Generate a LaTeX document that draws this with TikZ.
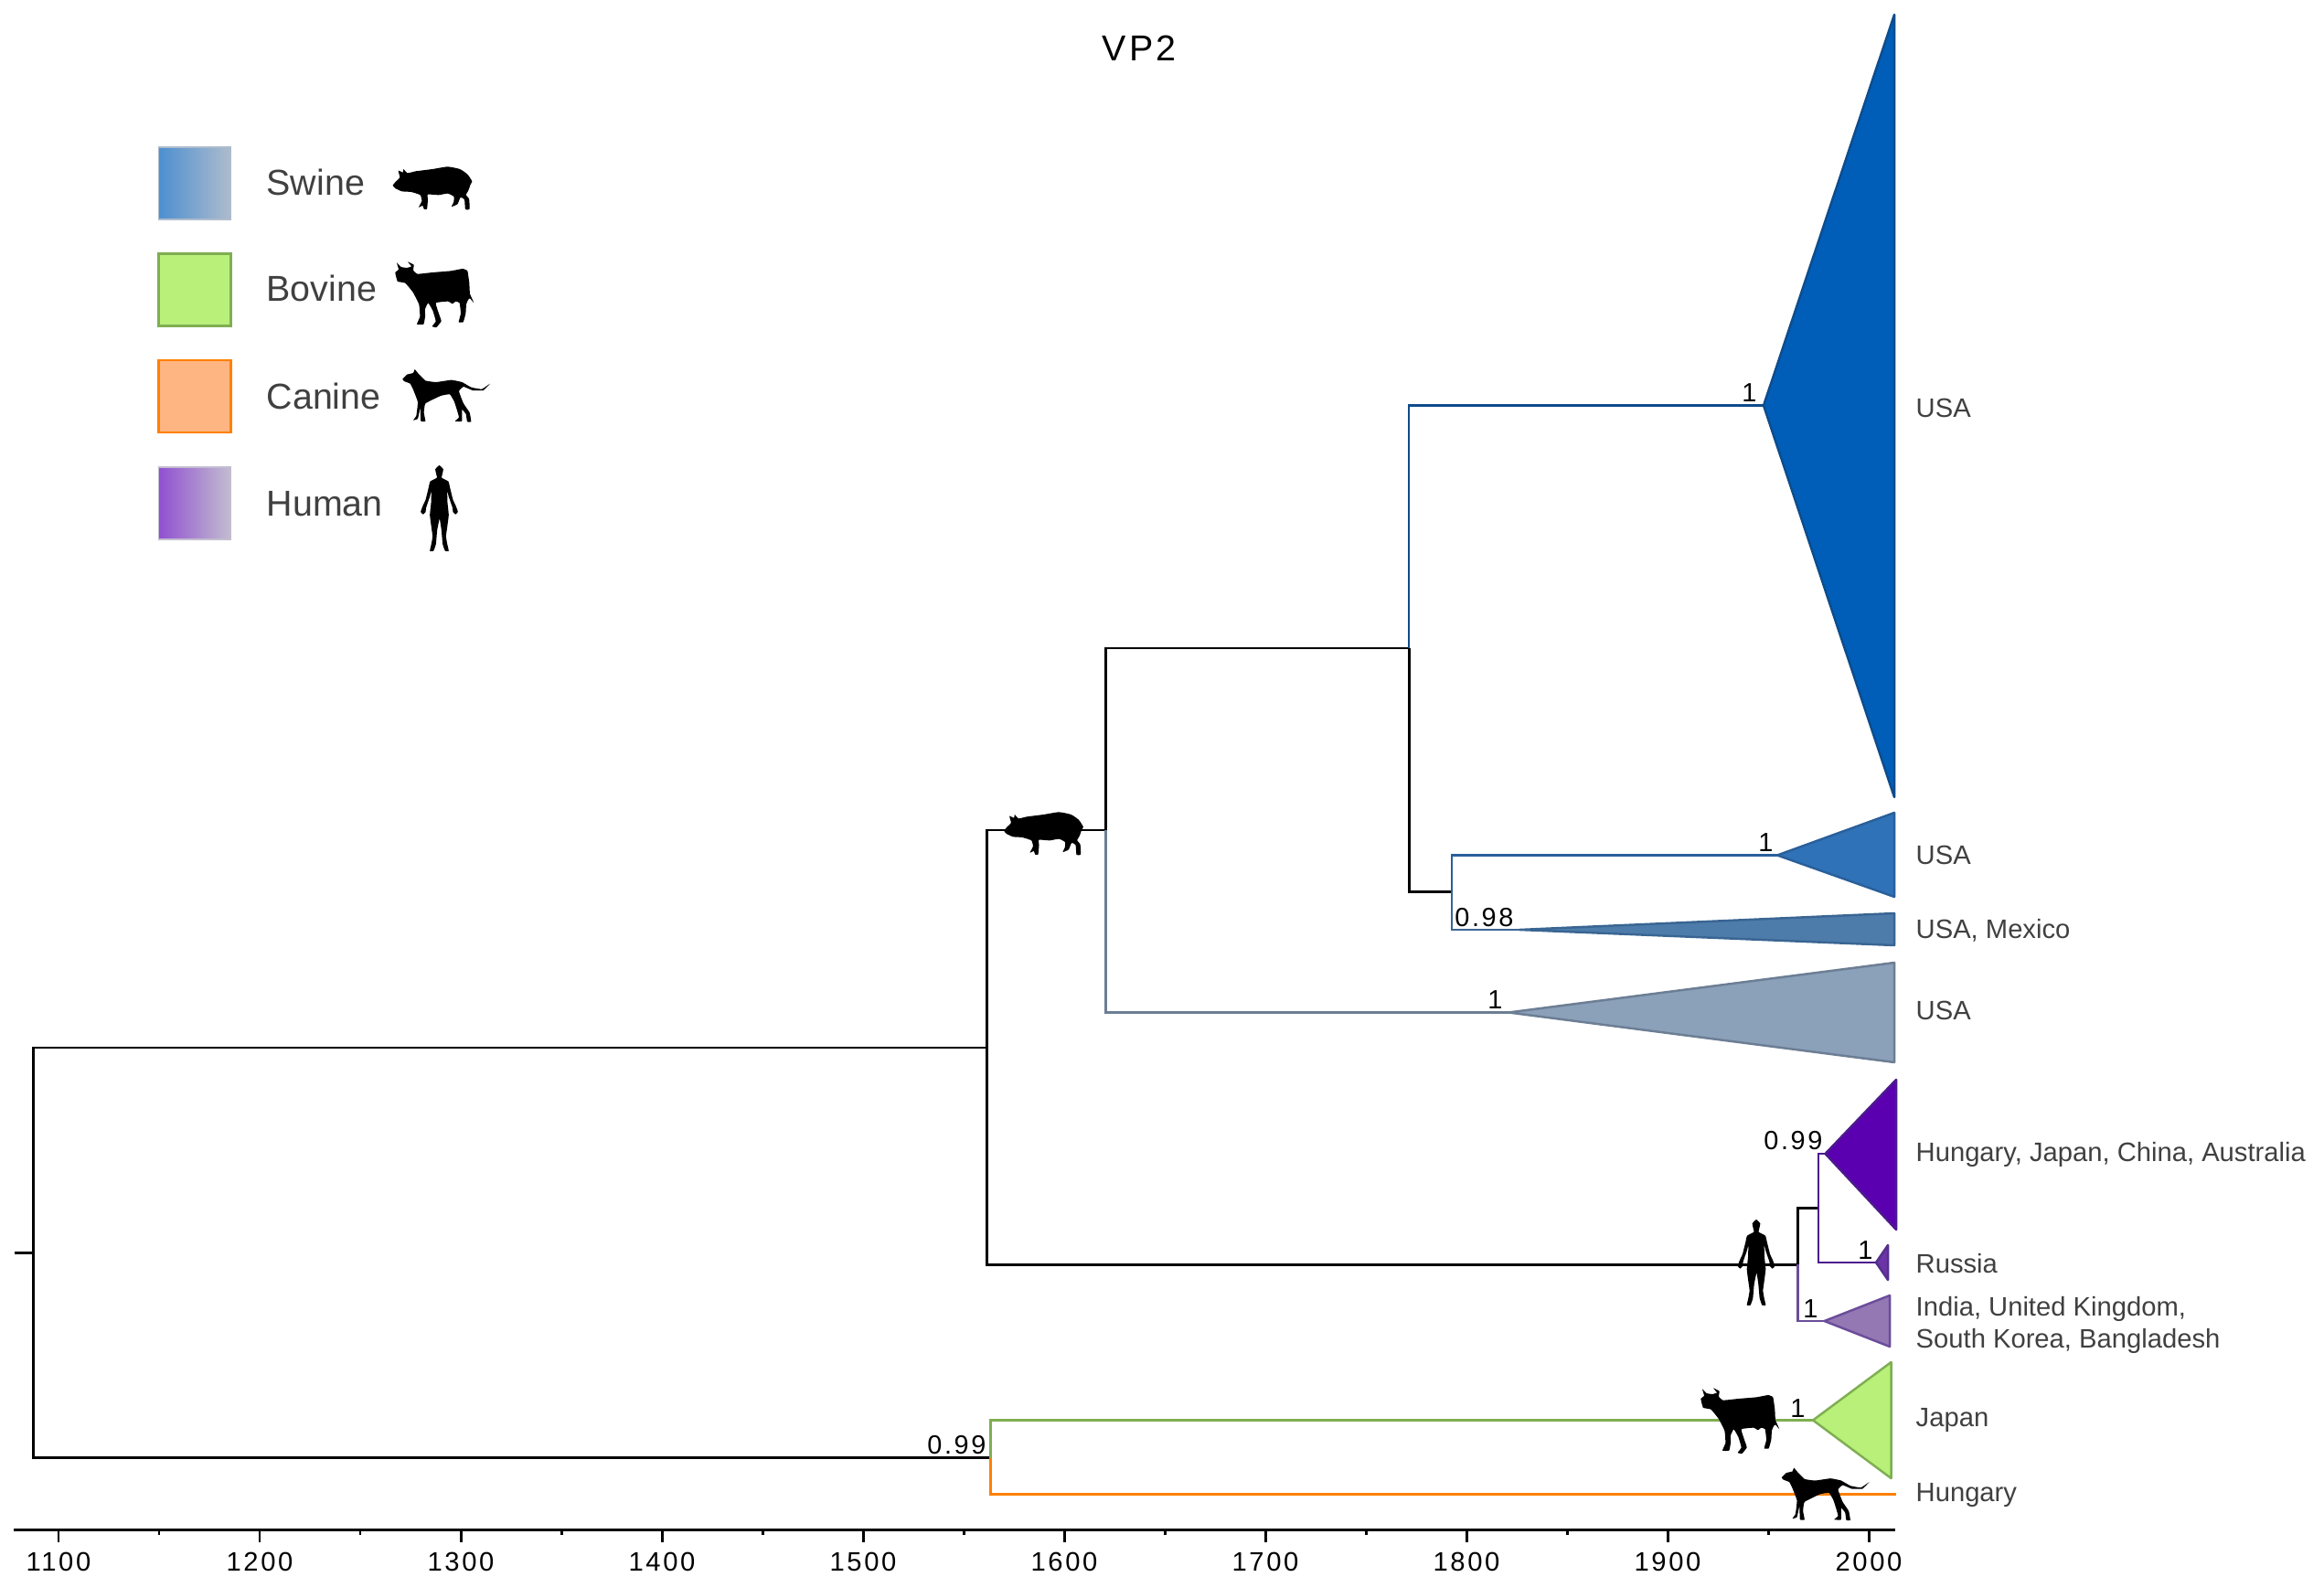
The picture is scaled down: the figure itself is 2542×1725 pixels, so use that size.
\documentclass[tikz,border=0pt]{standalone}
\usepackage{fontspec}
\usepackage{xcolor}
\usepackage{tikz}
\usetikzlibrary{positioning,calc}
\setmainfont{Liberation Sans}
\newfontfamily\spaced[LetterSpace=9]{Liberation Sans}
\definecolor{labelgrey}{RGB}{64,64,64}
% branches and outlines
\definecolor{lnusaA}{RGB}{14,76,140}
\definecolor{lnusaB}{RGB}{42,95,154}
\definecolor{lnusaC}{RGB}{58,101,147}
\definecolor{lnusaD}{RGB}{108,126,148}
\definecolor{lnhumA}{RGB}{76,26,140}
\definecolor{lnhumB}{RGB}{85,48,140}
\definecolor{lnhumC}{RGB}{107,77,154}
\definecolor{lnjap}{RGB}{127,174,82}
\definecolor{lncanine}{RGB}{255,128,0}
% fills
\definecolor{clusaA}{RGB}{0,94,184}
\definecolor{clusaB}{RGB}{47,114,184}
\definecolor{clusaC}{RGB}{77,124,171}
\definecolor{clusaD}{RGB}{138,161,185}
\definecolor{clhumA}{RGB}{90,0,176}
\definecolor{clhumB}{RGB}{107,53,165}
\definecolor{clhumC}{RGB}{148,120,180}
\definecolor{cljap}{RGB}{184,240,122}
\definecolor{clcanine}{RGB}{255,181,129}
% legend gradients
\definecolor{swineL}{RGB}{77,143,208}
\definecolor{swineM}{RGB}{160,181,204}
\definecolor{swineR}{RGB}{174,188,205}
\definecolor{humanL}{RGB}{144,80,208}
\definecolor{humanM}{RGB}{185,160,204}
\definecolor{humanR}{RGB}{195,189,208}
\tikzset{
  pigshape/.pic={
    \fill[scale=0.3333,shift={(-1000,-225)}] plot[smooth cycle,tension=0.3] coordinates {
      (870,218)(880,206)(893,192)(888,170)(903,176)(905,165)(918,178)(945,172)(1000,165)
      (1050,157)(1090,165)(1115,182)(1130,205)(1125,215)(1118,235)(1110,250)(1120,262)
      (1122,296)(1108,297)(1105,265)(1092,258)(1082,280)(1063,288)(1070,272)(1070,255)
      (1050,245)(1020,250)(985,248)(985,265)(982,296)(972,296)(968,285)(955,290)(965,270)
      (960,250)(930,240)(900,238)(878,228)};
  },
  cowshape/.pic={
    \fill[scale=0.3333,shift={(-1005,-577)}] plot[smooth cycle,tension=0.2] coordinates {
      (877,505)(888,495)(882,473)(896,487)(915,490)(930,485)(918,470)(938,480)(936,498)
      (950,510)(1000,505)(1060,500)(1098,493)(1114,500)(1120,540)(1122,575)(1135,605)
      (1122,590)(1116,595)(1110,610)(1108,640)(1100,668)(1085,668)(1092,640)(1088,605)
      (1075,600)(1065,608)(1050,600)(1010,605)(1020,640)(1028,665)(1012,685)(998,682)
      (1010,665)(1000,630)(985,605)(975,625)(975,650)(970,675)(948,675)(958,650)(955,610)
      (935,570)(910,540)(885,535)(880,520)};
  },
  dogshape/.pic={
    \fill[scale=0.3333,shift={(-1043,-910)}] plot[smooth cycle,tension=0.2] coordinates {
      (900,855)(915,840)(935,835)(940,823)(950,835)(975,860)(1010,865)(1060,858)(1095,865)
      (1125,882)(1160,888)(1187,870)(1165,892)(1130,892)(1100,880)(1085,895)(1100,935)
      (1120,965)(1125,995)(1112,995)(1108,970)(1095,955)(1095,993)(1072,993)(1085,980)
      (1070,930)(1055,905)(1025,910)(975,935)(970,965)(975,993)(960,993)(958,950)(950,985)
      (935,990)(945,975)(950,930)(935,890)(925,870)(905,862)};
  },
  humanshape/.pic={
    \fill[scale=0.3333,shift={(-1021,-1278)}] plot[smooth cycle,tension=0.2] coordinates {
      (1021,1137)(1034,1150)(1030,1170)(1029,1178)(1051,1190)(1056,1210)(1066,1250)(1076,1272)
      (1082,1290)(1074,1298)(1066,1290)(1064,1275)(1052,1240)(1047,1222)(1048,1260)(1052,1300)
      (1047,1340)(1043,1370)(1047,1395)(1052,1418)(1040,1418)(1032,1395)(1028,1350)(1022,1312)
      (1014,1350)(1010,1395)(1002,1418)(990,1418)(995,1395)(999,1370)(995,1340)(990,1300)
      (994,1260)(995,1222)(990,1240)(978,1275)(976,1290)(968,1298)(960,1290)(966,1272)
      (976,1250)(986,1210)(991,1190)(1013,1178)(1012,1170)(1008,1150)};
  }
}

\begin{document}
\begin{tikzpicture}[
          x=0.01cm,y=-0.01cm,
          branch/.style={line width=0.85pt},
          cbranch/.style={line width=0.7pt},
          clade/.style={line width=0.7pt,line join=round},
          tiplabel/.style={anchor=base west,inner sep=0pt,text=labelgrey,align=left,
            font=\fontsize{8.3pt}{10pt}\selectfont},
          support/.style={anchor=base east,inner sep=0pt,font=\fontsize{8.2pt}{9pt}\spaced},
          legbox/.style={minimum size=0.79cm,inner sep=0pt,line width=0.5pt},
          legtext/.style={anchor=base west,inner sep=0pt,text=labelgrey,font=\fontsize{11.2pt}{13pt}\selectfont}
          ]
          \useasboundingbox (0,0) rectangle (2542,1725);

          % the title
          \node[inner sep=0pt,anchor=base,font=\fontsize{11.2pt}{13pt}\spaced] (title) at (1246,67) {VP2};

          % the legend
          \node[legbox,draw=swineR,left color=swineL,middle color=swineM,right color=swineR] (swinebox) at (213,200.5) {};
          \node[legbox,draw=lnjap,fill=cljap,line width=0.8pt] (bovinebox) at (213,317) {};
          \node[legbox,draw=lncanine,fill=clcanine,line width=0.8pt] (caninebox) at (213,433.5) {};
          \node[legbox,draw=humanR,left color=humanL,middle color=humanM,right color=humanR] (humanbox) at (213,550.5) {};
          \foreach \n/\yval/\txt in {swine/213.5/Swine,bovine/330/Bovine,canine/448/Canine,human/564.5/Human}
            \node[legtext] (\n text) at (291,\yval) {\txt};
          \pic (legpig) at (473,205) {pigshape};
          \pic (legcow) at (475,322) {cowshape};
          \pic (legdog) at (488,433) {dogshape};
          \pic (leghuman) at (480.5,556) {humanshape};

          % the junctions of the tree
          \foreach \n/\xcoord/\ycoord in {rootstub/16/1370,rootj/36.5/1370,nA/1079.5/1146,nB/1083.5/1594.5,
            pigj/1209.5/908,humj/1966.5/1383,nC/1541/709,nD/1588/975.5,nE/1989/1321,hungend/2074/1634.5}
            \coordinate (\n) at (\xcoord,\ycoord);

          % the collapsed clades
          \foreach \n/\xcoord/\ycoord/\base/\top/\bot in {
            usaA/1929/443.5/2072/16/872,usaB/1944/935.5/2072/889/981,usaC/1662/1017/2072/999/1034,
            usaD/1650/1107.5/2072/1053/1162,humA/1996.5/1262/2074/1181/1345,humB/2052/1381/2065/1362/1400,
            humC/1995.5/1445/2067/1417/1473,jap/1983/1553.5/2068.5/1490/1617}
          {
            \coordinate (\n) at (\xcoord,\ycoord);
            \draw[clade,draw=ln\n,fill=cl\n] (\n) -- (\base,\top) -- (\base,\bot) -- cycle;
          }

          % the edges
          \draw[branch] (rootstub) -- (rootj);
          \draw[branch] (rootj) |- (nA);
          \draw[branch] (rootj) |- (nB);
          \draw[branch] (nA) |- (pigj);
          \draw[branch] (nA) |- (humj);
          \draw[branch] (pigj) |- (nC);
          \draw[cbranch,lnusaD] (pigj) |- (usaD);
          \draw[cbranch,lnusaA] (nC) |- (usaA);
          \draw[branch] (nC) |- (nD);
          \draw[cbranch,lnusaB] (nD) |- (usaB);
          \draw[cbranch,lnusaC] (nD) |- (usaC);
          \draw[branch] (humj) |- (nE);
          \draw[cbranch,lnhumC] (humj) |- (humC);
          \draw[cbranch,lnhumA] (nE) |- (humA);
          \draw[cbranch,lnhumA] (nE) |- (humB);
          \draw[cbranch,lnjap] (nB) |- (jap);
          \draw[cbranch,lncanine] (nB) |- (hungend);

          % the hosts on the tree
          \pic (treepig) at (1141.5,911) {pigshape};
          \pic (treecow) at (1903,1554) {cowshape};
          \pic (treedog) at (1996.5,1634.5) {dogshape};
          \pic (treehuman) at (1921,1381) {humanshape};

          % the support values
          \foreach \n/\xcoord/\ycoord/\val in {sA/1922/440/1,sB/1940/931/1,sC/1656/1013/0.98,sD/1644/1103/1,
            sE/1994/1257/0.99,sF/2049/1377/1,sG/1989/1441/1,sH/1975/1550/1,sI/1079/1590/0.99}
            \node[support] (\n) at (\xcoord,\ycoord) {\val};

          % the tip labels
          \node[tiplabel] (tipA) at (2095,456.5) {USA};
          \node[tiplabel] (tipB) at (2095,945.5) {USA};
          \node[tiplabel] (tipC) at (2095,1026.5) {USA, Mexico};
          \node[tiplabel] (tipD) at (2095,1115.5) {USA};
          \node[tiplabel] (tipE) at (2095,1270) {Hungary, Japan, China, Australia};
          \node[tiplabel] (tipF) at (2095,1392) {Russia};
          \node[tiplabel] (tipG) at (2095,1474.5) {India, United Kingdom,\\South Korea, Bangladesh};
          \node[tiplabel] (tipH) at (2095,1560) {Japan};
          \node[tiplabel] (tipI) at (2095,1642.5) {Hungary};

          % the time axis
          \coordinate (axisl) at (15,1673);
          \coordinate (axisr) at (2073,1673);
          \draw[branch] (axisl) -- (axisr);
          \foreach \yr/\xcoord in {1100/64,1200/284,1300/504,1400/724,1500/944,1600/1164,1700/1384,1800/1604,1900/1824,2000/2044}
          {
            \draw[branch] (\xcoord,1673) -- (\xcoord,1687);
            \node[inner sep=0pt,anchor=base,font=\fontsize{8.3pt}{9pt}\spaced] (year\yr) at (\xcoord,1718) {\yr};
          }
          \foreach \xcoord in {174,394,614,834,1054,1274,1494,1714,1934}
            \draw[branch] (\xcoord,1673) -- (\xcoord,1679);
\end{tikzpicture}
\end{document}
